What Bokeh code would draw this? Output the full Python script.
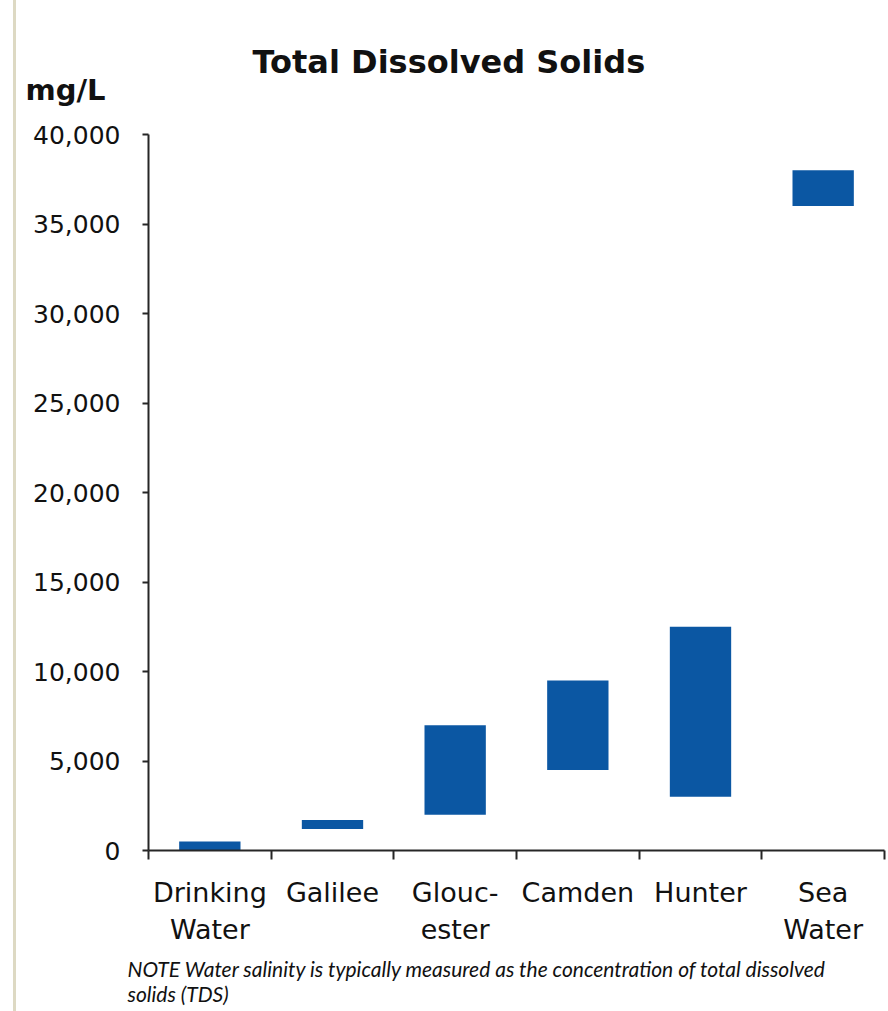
from bokeh.plotting import figure
from bokeh.models import Range1d, FixedTicker, LinearAxis, NumeralTickFormatter, Title, Div
from bokeh.layouts import row
from bokeh.embed import file_html
from bokeh.resources import INLINE

# ---- data ----
categories = ["Drinking\nWater", "Galilee", "Glouc-\nester", "Camden", "Hunter", "Sea\nWater"]
tds_low = [0, 1200, 2000, 4500, 3000, 36000]
tds_high = [500, 1700, 7000, 9500, 12500, 38000]
y_ticks = [0, 5000, 10000, 15000, 20000, 25000, 30000, 35000, 40000]
title_text = "Total Dissolved Solids"
unit_text = "mg/L"
note_text = ("NOTE Water salinity is typically measured as the concentration of total dissolved\n"
             "solids (TDS)")

n = len(categories)
centers = [i + 0.5 for i in range(n)]
boundaries = list(range(n + 1))

BAR = "#0b57a3"
AX = "#262626"
TXT = "#111111"

p = figure(width=870, height=1003,
           x_range=Range1d(0, n), y_range=Range1d(0, 40000),
           x_axis_type=None, y_axis_type=None,
           toolbar_location=None, output_backend="svg",
           min_border_left=132, min_border_right=2,
           min_border_top=126, min_border_bottom=158,
           outline_line_color=None, title=None,
           margin=(8, 0, 0, 0))

p.vbar(x=centers, bottom=tds_low, top=tds_high, width=0.5,
       fill_color=BAR, line_color=None)

# y axis
yaxis = LinearAxis(ticker=FixedTicker(ticks=y_ticks),
                   formatter=NumeralTickFormatter(format="0,0"),
                   major_tick_out=6, major_tick_in=0,
                   minor_tick_line_color=None,
                   axis_line_width=2, axis_line_color=AX,
                   major_tick_line_width=2, major_tick_line_color=AX,
                   major_label_text_font="DejaVu Sans",
                   major_label_text_font_size="25px",
                   major_label_text_color=TXT,
                   major_label_standoff=22)
p.add_layout(yaxis, "left")

# x axis: labels at category centres, tick marks at category boundaries
xaxis = LinearAxis(ticker=FixedTicker(ticks=centers, minor_ticks=boundaries),
                   major_label_overrides={c: lab for c, lab in zip(centers, categories)},
                   axis_line_width=2, axis_line_color=AX,
                   major_tick_line_color=None, major_tick_out=0, major_tick_in=0,
                   minor_tick_line_color=AX, minor_tick_line_width=2,
                   minor_tick_out=9, minor_tick_in=0,
                   major_label_text_font="DejaVu Sans",
                   major_label_text_font_size="27px",
                   major_label_text_color=TXT,
                   major_label_text_line_height=1.2,
                   major_label_standoff=17)
p.add_layout(xaxis, "below")

# titles above (first added is nearest the frame)
p.add_layout(Title(text=unit_text, align="left", offset=-123,
                   text_font="DejaVu Sans", text_font_style="bold",
                   text_font_size="29px", text_color=TXT, standoff=55), "above")
p.add_layout(Title(text=title_text, align="left", offset=104,
                   text_font="DejaVu Sans", text_font_style="bold",
                   text_font_size="32px", text_color=TXT, standoff=-75), "above")

# footnote below
p.add_layout(Title(text=note_text, align="left", offset=-21,
                   text_font="Lato", text_font_style="italic",
                   text_font_size="21px", text_line_height=1.0,
                   text_color=TXT, standoff=12), "below")

edge = Div(width=3, height=1011, margin=(0, 0, 0, 13),
           styles={"background-color": "#ddd9c3"})

layout = row(edge, p, spacing=0)
open("out.html", "w").write(file_html(layout, INLINE))
